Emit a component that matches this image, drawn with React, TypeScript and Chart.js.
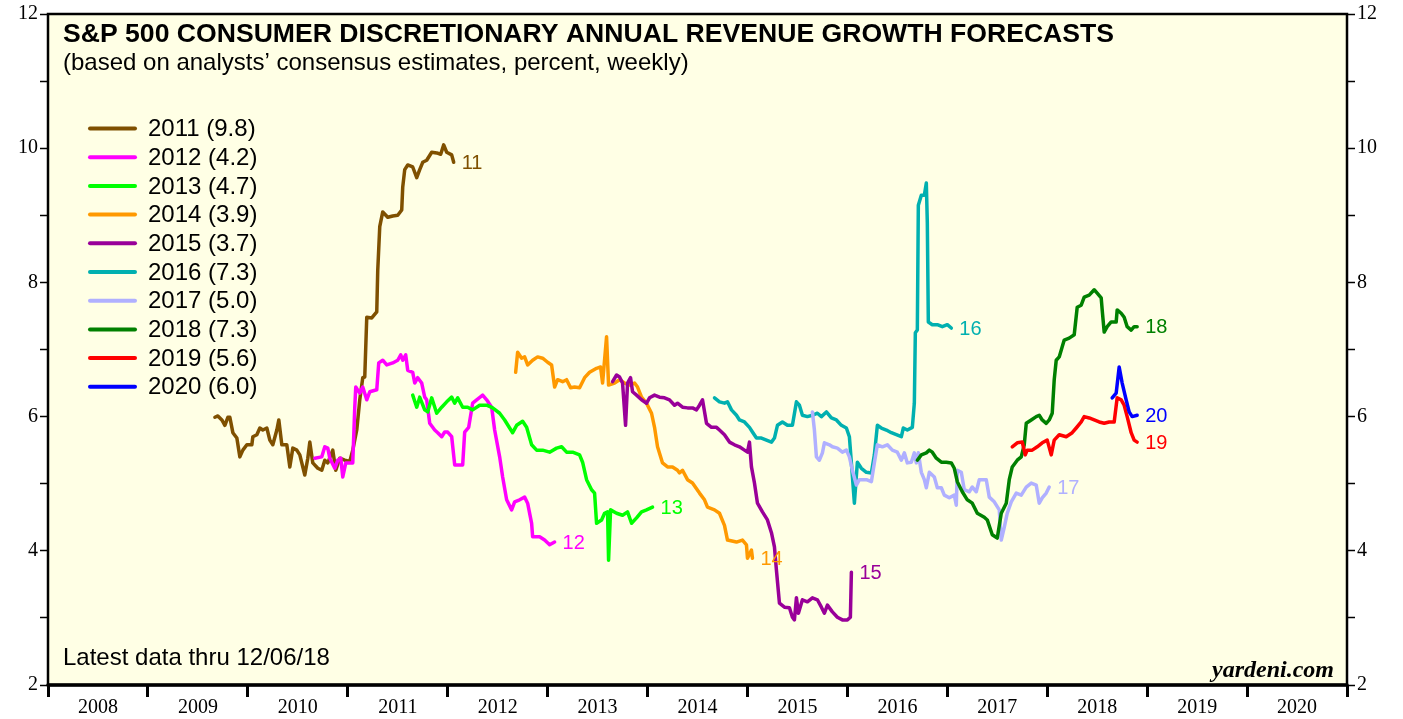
import React, { useEffect, useRef } from "react";
import { Chart, registerables } from "chart.js";

Chart.register(...registerables);

// [decimal year, percent]
const S2011: [number, number][] = [
  [2009.67, 5.99], [2009.70, 6.01], [2009.74, 5.95], [2009.77, 5.87], [2009.80, 5.99], [2009.82, 5.99],
  [2009.85, 5.76], [2009.89, 5.68], [2009.92, 5.40], [2009.95, 5.50], [2009.99, 5.58], [2010.04, 5.58],
  [2010.05, 5.70], [2010.09, 5.73], [2010.12, 5.83], [2010.15, 5.80], [2010.19, 5.83], [2010.22, 5.65],
  [2010.25, 5.58], [2010.29, 5.80], [2010.31, 5.95], [2010.34, 5.58], [2010.39, 5.58], [2010.42, 5.25],
  [2010.45, 5.53], [2010.49, 5.50], [2010.52, 5.43], [2010.57, 5.13], [2010.60, 5.38], [2010.62, 5.62],
  [2010.65, 5.31], [2010.70, 5.23], [2010.74, 5.20], [2010.77, 5.35], [2010.80, 5.31], [2010.85, 5.50],
  [2010.88, 5.20], [2010.92, 5.38], [2010.97, 5.35], [2011.02, 5.33], [2011.05, 5.50], [2011.09, 5.80],
  [2011.12, 6.25], [2011.15, 6.58], [2011.17, 6.59], [2011.19, 7.48], [2011.24, 7.47], [2011.29, 7.56],
  [2011.30, 8.18], [2011.32, 8.83], [2011.35, 9.05], [2011.40, 8.97], [2011.45, 8.99], [2011.50, 9.00],
  [2011.54, 9.08], [2011.55, 9.42], [2011.57, 9.68], [2011.60, 9.75], [2011.65, 9.72], [2011.69, 9.56],
  [2011.72, 9.68], [2011.75, 9.79], [2011.79, 9.82], [2011.84, 9.94], [2011.89, 9.93], [2011.93, 9.91],
  [2011.96, 10.05], [2011.99, 9.94], [2012.04, 9.90], [2012.06, 9.79],
];

const S2012: [number, number][] = [
  [2010.67, 5.38], [2010.74, 5.40], [2010.77, 5.55], [2010.80, 5.53], [2010.82, 5.38], [2010.87, 5.23],
  [2010.90, 5.35], [2010.93, 5.38], [2010.95, 5.10], [2010.98, 5.31], [2011.01, 5.31], [2011.05, 5.31],
  [2011.07, 6.14], [2011.08, 6.44], [2011.12, 6.35], [2011.15, 6.44], [2011.19, 6.25], [2011.22, 6.37],
  [2011.29, 6.40], [2011.31, 6.80], [2011.35, 6.84], [2011.39, 6.77], [2011.45, 6.80], [2011.50, 6.84],
  [2011.53, 6.92], [2011.55, 6.84], [2011.58, 6.92], [2011.60, 6.69], [2011.65, 6.66], [2011.67, 6.50],
  [2011.70, 6.58], [2011.74, 6.50], [2011.77, 6.29], [2011.79, 6.25], [2011.82, 5.90], [2011.87, 5.80],
  [2011.90, 5.76], [2011.94, 5.70], [2011.97, 5.77], [2012.00, 5.77], [2012.04, 5.70], [2012.07, 5.28],
  [2012.11, 5.28], [2012.15, 5.28], [2012.17, 5.77], [2012.21, 5.84], [2012.25, 6.20], [2012.29, 6.25],
  [2012.35, 6.32], [2012.39, 6.25], [2012.44, 6.14], [2012.47, 5.80], [2012.52, 5.40], [2012.55, 5.10],
  [2012.59, 4.76], [2012.64, 4.61], [2012.67, 4.73], [2012.72, 4.76], [2012.77, 4.80], [2012.80, 4.71],
  [2012.84, 4.41], [2012.85, 4.21], [2012.92, 4.21], [2012.97, 4.16], [2013.02, 4.09], [2013.07, 4.13],
];

const S2013: [number, number][] = [
  [2011.65, 6.32], [2011.69, 6.14], [2011.72, 6.29], [2011.77, 6.10], [2011.80, 6.07], [2011.84, 6.28],
  [2011.89, 6.05], [2011.94, 6.14], [2011.99, 6.22], [2012.04, 6.29], [2012.07, 6.20], [2012.10, 6.28],
  [2012.15, 6.14], [2012.20, 6.14], [2012.25, 6.10], [2012.32, 6.17], [2012.39, 6.17], [2012.45, 6.13],
  [2012.52, 6.05], [2012.57, 5.95], [2012.62, 5.83], [2012.65, 5.76], [2012.69, 5.87], [2012.75, 5.93],
  [2012.79, 5.84], [2012.84, 5.58], [2012.89, 5.50], [2012.95, 5.50], [2013.02, 5.47], [2013.09, 5.53],
  [2013.14, 5.55], [2013.19, 5.47], [2013.25, 5.47], [2013.32, 5.43], [2013.35, 5.32], [2013.39, 5.06],
  [2013.44, 4.91], [2013.47, 4.86], [2013.49, 4.41], [2013.54, 4.46], [2013.57, 4.56], [2013.60, 4.58],
  [2013.61, 3.86], [2013.63, 4.61], [2013.69, 4.56], [2013.75, 4.53], [2013.80, 4.58], [2013.84, 4.41],
  [2013.89, 4.49], [2013.94, 4.58], [2013.99, 4.61], [2014.05, 4.65],
];

const S2014: [number, number][] = [
  [2012.68, 6.66], [2012.70, 6.96], [2012.74, 6.87], [2012.77, 6.89], [2012.80, 6.77], [2012.85, 6.84],
  [2012.90, 6.89], [2012.95, 6.87], [2013.00, 6.81], [2013.04, 6.77], [2013.07, 6.44], [2013.10, 6.55],
  [2013.15, 6.52], [2013.19, 6.55], [2013.23, 6.43], [2013.27, 6.44], [2013.32, 6.43], [2013.37, 6.58],
  [2013.42, 6.66], [2013.49, 6.72], [2013.53, 6.74], [2013.55, 6.50], [2013.59, 7.19], [2013.61, 6.47],
  [2013.67, 6.50], [2013.72, 6.55], [2013.77, 6.50], [2013.82, 6.47], [2013.87, 6.50], [2013.90, 6.44],
  [2013.94, 6.29], [2013.99, 6.20], [2014.04, 6.05], [2014.07, 5.84], [2014.10, 5.55], [2014.15, 5.31],
  [2014.20, 5.25], [2014.25, 5.25], [2014.30, 5.20], [2014.32, 5.16], [2014.35, 5.20], [2014.40, 5.06],
  [2014.45, 5.01], [2014.52, 4.86], [2014.57, 4.76], [2014.60, 4.65], [2014.67, 4.61], [2014.72, 4.56],
  [2014.77, 4.38], [2014.80, 4.16], [2014.89, 4.13], [2014.95, 4.16], [2014.99, 4.09], [2015.00, 3.89],
  [2015.04, 4.01], [2015.05, 3.89],
];

const S2015: [number, number][] = [
  [2013.65, 6.52], [2013.69, 6.62], [2013.72, 6.59], [2013.75, 6.50], [2013.78, 5.87], [2013.80, 6.50],
  [2013.83, 6.58], [2013.85, 6.37], [2013.89, 6.32], [2013.94, 6.25], [2013.99, 6.20], [2014.02, 6.28],
  [2014.07, 6.32], [2014.12, 6.29], [2014.17, 6.28], [2014.22, 6.25], [2014.27, 6.17], [2014.30, 6.20],
  [2014.35, 6.14], [2014.40, 6.13], [2014.45, 6.13], [2014.49, 6.10], [2014.52, 6.17], [2014.55, 6.25],
  [2014.59, 5.90], [2014.64, 5.84], [2014.69, 5.84], [2014.72, 5.80], [2014.77, 5.73], [2014.82, 5.62],
  [2014.87, 5.58], [2014.92, 5.55], [2014.97, 5.50], [2015.00, 5.47], [2015.02, 5.62], [2015.04, 5.25],
  [2015.07, 5.01], [2015.10, 4.71], [2015.15, 4.58], [2015.20, 4.46], [2015.24, 4.27], [2015.27, 4.06],
  [2015.29, 3.71], [2015.32, 3.22], [2015.37, 3.16], [2015.42, 3.15], [2015.45, 3.01], [2015.47, 2.97],
  [2015.49, 3.30], [2015.51, 3.07], [2015.55, 3.27], [2015.60, 3.24], [2015.65, 3.30], [2015.70, 3.27],
  [2015.74, 3.16], [2015.77, 3.07], [2015.80, 3.19], [2015.85, 3.09], [2015.90, 3.01], [2015.95, 2.97],
  [2016.00, 2.97], [2016.03, 3.01], [2016.04, 3.68],
];

const S2016: [number, number][] = [
  [2014.67, 6.28], [2014.72, 6.22], [2014.77, 6.20], [2014.80, 6.22], [2014.84, 6.10], [2014.89, 6.02],
  [2014.92, 5.95], [2014.97, 5.92], [2015.02, 5.84], [2015.05, 5.77], [2015.09, 5.68], [2015.14, 5.68],
  [2015.19, 5.65], [2015.24, 5.62], [2015.27, 5.68], [2015.30, 5.87], [2015.35, 5.92], [2015.40, 5.87],
  [2015.45, 5.87], [2015.49, 6.22], [2015.52, 6.17], [2015.55, 6.02], [2015.60, 6.00], [2015.65, 6.02],
  [2015.70, 6.05], [2015.74, 6.00], [2015.79, 6.07], [2015.84, 5.98], [2015.89, 5.95], [2015.94, 5.87],
  [2015.99, 5.83], [2016.02, 5.70], [2016.04, 5.31], [2016.07, 4.71], [2016.10, 5.32], [2016.14, 5.23],
  [2016.19, 5.17], [2016.24, 5.16], [2016.27, 5.43], [2016.30, 5.87], [2016.34, 5.83], [2016.39, 5.80],
  [2016.44, 5.76], [2016.49, 5.73], [2016.54, 5.70], [2016.56, 5.83], [2016.60, 5.80], [2016.65, 5.84],
  [2016.67, 6.20], [2016.68, 7.25], [2016.70, 7.29], [2016.71, 9.15], [2016.74, 9.30], [2016.77, 9.30],
  [2016.79, 9.48], [2016.80, 8.89], [2016.81, 7.41], [2016.85, 7.37], [2016.90, 7.37], [2016.95, 7.34],
  [2017.00, 7.37], [2017.04, 7.32],
];

const S2017: [number, number][] = [
  [2015.65, 6.07], [2015.67, 5.80], [2015.69, 5.40], [2015.72, 5.35], [2015.75, 5.46], [2015.77, 5.61],
  [2015.82, 5.58], [2015.85, 5.55], [2015.90, 5.53], [2015.95, 5.47], [2015.99, 5.50], [2016.02, 5.40],
  [2016.05, 5.20], [2016.09, 4.98], [2016.12, 5.06], [2016.19, 5.06], [2016.24, 5.03], [2016.27, 5.31],
  [2016.30, 5.58], [2016.35, 5.55], [2016.40, 5.58], [2016.45, 5.50], [2016.50, 5.47], [2016.54, 5.35],
  [2016.57, 5.46], [2016.60, 5.31], [2016.64, 5.32], [2016.67, 5.46], [2016.69, 5.31], [2016.71, 5.46],
  [2016.74, 5.17], [2016.77, 5.06], [2016.79, 4.94], [2016.82, 5.17], [2016.87, 5.10], [2016.90, 4.94],
  [2016.94, 4.94], [2016.97, 4.83], [2017.02, 4.79], [2017.07, 4.83], [2017.09, 4.68], [2017.10, 5.20],
  [2017.14, 5.17], [2017.17, 4.91], [2017.22, 4.88], [2017.25, 4.95], [2017.29, 4.88], [2017.32, 5.06],
  [2017.39, 5.06], [2017.42, 4.80], [2017.47, 4.73], [2017.52, 4.61], [2017.54, 4.16], [2017.57, 4.35],
  [2017.60, 4.56], [2017.64, 4.73], [2017.69, 4.86], [2017.74, 4.83], [2017.79, 4.95], [2017.84, 5.01],
  [2017.89, 4.98], [2017.92, 4.71], [2017.95, 4.79], [2017.99, 4.86], [2018.02, 4.95],
];

const S2018: [number, number][] = [
  [2016.70, 5.35], [2016.74, 5.43], [2016.79, 5.46], [2016.82, 5.50], [2016.85, 5.47], [2016.89, 5.38],
  [2016.94, 5.32], [2016.99, 5.32], [2017.04, 5.31], [2017.07, 5.23], [2017.10, 5.03], [2017.15, 4.88],
  [2017.20, 4.76], [2017.25, 4.71], [2017.30, 4.56], [2017.37, 4.50], [2017.40, 4.46], [2017.45, 4.24],
  [2017.50, 4.19], [2017.54, 4.56], [2017.59, 4.71], [2017.62, 5.06], [2017.65, 5.25], [2017.70, 5.35],
  [2017.74, 5.40], [2017.77, 5.58], [2017.79, 5.90], [2017.84, 5.95], [2017.89, 6.00], [2017.92, 6.02],
  [2017.95, 5.95], [2017.99, 5.90], [2018.02, 5.95], [2018.05, 6.05], [2018.07, 6.55], [2018.09, 6.84],
  [2018.12, 6.89], [2018.15, 7.04], [2018.17, 7.14], [2018.22, 7.17], [2018.27, 7.22], [2018.30, 7.63],
  [2018.34, 7.66], [2018.37, 7.78], [2018.42, 7.81], [2018.47, 7.89], [2018.50, 7.84], [2018.54, 7.77],
  [2018.55, 7.59], [2018.57, 7.26], [2018.60, 7.34], [2018.64, 7.41], [2018.69, 7.41], [2018.70, 7.59],
  [2018.74, 7.54], [2018.77, 7.48], [2018.80, 7.34], [2018.84, 7.29], [2018.87, 7.34], [2018.90, 7.34],
];

const S2019: [number, number][] = [
  [2017.65, 5.55], [2017.70, 5.61], [2017.75, 5.62], [2017.78, 5.43], [2017.80, 5.50], [2017.85, 5.50],
  [2017.90, 5.55], [2017.95, 5.61], [2018.00, 5.65], [2018.04, 5.43], [2018.07, 5.65], [2018.12, 5.73],
  [2018.19, 5.70], [2018.25, 5.76], [2018.29, 5.83], [2018.34, 5.92], [2018.37, 6.00], [2018.42, 5.98],
  [2018.47, 5.95], [2018.52, 5.92], [2018.57, 5.90], [2018.62, 5.92], [2018.67, 5.92], [2018.70, 6.28],
  [2018.74, 6.25], [2018.77, 6.17], [2018.80, 6.00], [2018.84, 5.76], [2018.87, 5.65], [2018.90, 5.62],
];

const S2020: [number, number][] = [
  [2018.65, 6.28], [2018.69, 6.35], [2018.72, 6.74], [2018.75, 6.50], [2018.79, 6.25], [2018.82, 6.07],
  [2018.85, 6.00], [2018.90, 6.02],
];

const SERIES = [S2011, S2012, S2013, S2014, S2015, S2016, S2017, S2018, S2019, S2020];
const LEGEND_LABELS = [
  "2011 (9.8)", "2012 (4.2)", "2013 (4.7)", "2014 (3.9)", "2015 (3.7)",
  "2016 (7.3)", "2017 (5.0)", "2018 (7.3)", "2019 (5.6)", "2020 (6.0)",
];
const END_LABELS = ["11", "12", "13", "14", "15", "16", "17", "18", "19", "20"];
const COLORS = [
  "#7F5000", "#FF00FF", "#00FF00", "#FF9900", "#990099",
  "#00B0B0", "#B0B0FF", "#008000", "#FF0000", "#0000FF",
];

const TITLE = "S&P 500 CONSUMER DISCRETIONARY ANNUAL REVENUE GROWTH FORECASTS";
const SUBTITLE = "(based on analysts\u2019 consensus estimates, percent, weekly)";
const FOOTNOTE = "Latest data thru 12/06/18";
const SOURCE = "yardeni.com";

const X_MIN = 2008;
const X_MAX = 2021;
const Y_MIN = 2;
const Y_MAX = 12;

const SANS = "'Liberation Sans', Arial, sans-serif";
const SERIF = "'Liberation Serif', 'Times New Roman', serif";

const decorPlugin = {
  id: "decor",
  beforeDraw(chart: any) {
    const { ctx, chartArea } = chart;
    ctx.save();
    ctx.fillStyle = "#FFFFFF";
    ctx.fillRect(0, 0, chart.width, chart.height);
    ctx.fillStyle = "#FFFFE5";
    ctx.fillRect(chartArea.left, chartArea.top, chartArea.right - chartArea.left, chartArea.bottom - chartArea.top);
    ctx.restore();
  },
  afterDatasetsDraw(chart: any) {
    const { ctx, chartArea } = chart;
    const L = chartArea.left;
    ctx.save();
    // title
    ctx.fillStyle = "#000";
    ctx.textAlign = "left";
    ctx.textBaseline = "alphabetic";
    ctx.font = `bold 26.6px ${SANS}`;
    ctx.fillText(TITLE, L + 15, chartArea.top + 28);
    ctx.font = `24px ${SANS}`;
    ctx.fillText(SUBTITLE, L + 15, chartArea.top + 56);
    // legend
    for (let i = 0; i < LEGEND_LABELS.length; i++) {
      const y = chartArea.top + 114.5 + i * 28.7;
      ctx.strokeStyle = COLORS[i];
      ctx.lineWidth = 4;
      ctx.lineCap = "round";
      ctx.beginPath();
      ctx.moveTo(L + 42, y);
      ctx.lineTo(L + 87, y);
      ctx.stroke();
      ctx.fillStyle = "#000";
      ctx.font = `24px ${SANS}`;
      ctx.textBaseline = "middle";
      ctx.fillText(LEGEND_LABELS[i], L + 100, y + 1);
    }
    // end labels
    ctx.font = `20px ${SANS}`;
    ctx.textBaseline = "middle";
    chart.data.datasets.forEach((ds: any, i: number) => {
      const meta = chart.getDatasetMeta(i);
      const pt = meta.data[meta.data.length - 1];
      if (!pt) return;
      ctx.fillStyle = ds.borderColor;
      ctx.fillText(END_LABELS[i], pt.x + 8, pt.y + 1);
    });
    // footnote & source
    ctx.fillStyle = "#000";
    ctx.textBaseline = "alphabetic";
    ctx.font = `24px ${SANS}`;
    ctx.fillText(FOOTNOTE, L + 15, chartArea.bottom - 20);
    ctx.textAlign = "right";
    ctx.font = `italic bold 24px ${SERIF}`;
    ctx.fillText(SOURCE, chartArea.right - 13, chartArea.bottom - 8);
    // frame
    ctx.strokeStyle = "#000";
    ctx.lineWidth = 2.5;
    ctx.strokeRect(L, chartArea.top, chartArea.right - L, chartArea.bottom - chartArea.top);
    ctx.lineWidth = 3.5;
    ctx.beginPath();
    ctx.moveTo(L, chartArea.bottom);
    ctx.lineTo(chartArea.right, chartArea.bottom);
    ctx.stroke();
    ctx.restore();
  },
};

export default function App() {
  const ref = useRef<HTMLCanvasElement | null>(null);

  useEffect(() => {
    if (!ref.current) return;
    const yTicks = {
      stepSize: 1,
      color: "#000",
      padding: 2,
      font: { family: SERIF, size: 20 },
      callback: (v: any) => (Number(v) % 2 === 0 ? String(v) : ""),
    };
    const yGrid = {
      drawOnChartArea: false,
      drawTicks: true,
      tickLength: 8,
      tickWidth: 1.5,
      tickColor: "#000",
      color: "#000",
    };
    const chart = new Chart(ref.current, {
      type: "line",
      data: {
        datasets: SERIES.map((s, i) => ({
          label: LEGEND_LABELS[i],
          data: s.map(([x, y]) => ({ x, y })),
          borderColor: COLORS[i],
          backgroundColor: COLORS[i],
          borderWidth: 3.5,
          pointRadius: 0,
          tension: 0,
          fill: false,
          borderJoinStyle: "round",
          borderCapStyle: "round",
          order: SERIES.length - 1 - i,
        })),
      },
      options: {
        animation: false,
        responsive: false,
        devicePixelRatio: 1,
        layout: { padding: { top: 14, left: 0, right: 0, bottom: 0 } },
        plugins: { legend: { display: false }, tooltip: { enabled: false }, title: { display: false } },
        scales: {
          x: {
            type: "linear",
            min: X_MIN,
            max: X_MAX,
            border: { display: false },
            grid: {
              drawOnChartArea: false,
              drawTicks: true,
              tickLength: 12,
              tickWidth: 3,
              tickColor: "#000",
              color: "#000",
            },
            ticks: {
              stepSize: 1,
              autoSkip: false,
              maxRotation: 0,
              color: "#000",
              padding: -1,
              labelOffset: 50,
              font: { family: SERIF, size: 20 },
              callback: (v: any) => (Number(v) < X_MAX ? String(v) : ""),
            },
            afterFit: (s: any) => { s.height = 34; },
          },
          y: {
            type: "linear",
            position: "left",
            min: Y_MIN,
            max: Y_MAX,
            border: { display: false },
            grid: yGrid,
            ticks: yTicks,
            afterFit: (s: any) => { s.width = 48; },
          },
          y2: {
            type: "linear",
            position: "right",
            min: Y_MIN,
            max: Y_MAX,
            border: { display: false },
            grid: yGrid,
            ticks: yTicks,
            afterFit: (s: any) => { s.width = 56; },
          },
        },
      } as any,
      plugins: [decorPlugin],
    });
    return () => chart.destroy();
  }, []);

  return (
    <div style={{ position: "fixed", left: 0, top: 0, width: 1403, height: 719, background: "#fff" }}>
      <canvas ref={ref} width={1403} height={719} style={{ display: "block" }} />
    </div>
  );
}
